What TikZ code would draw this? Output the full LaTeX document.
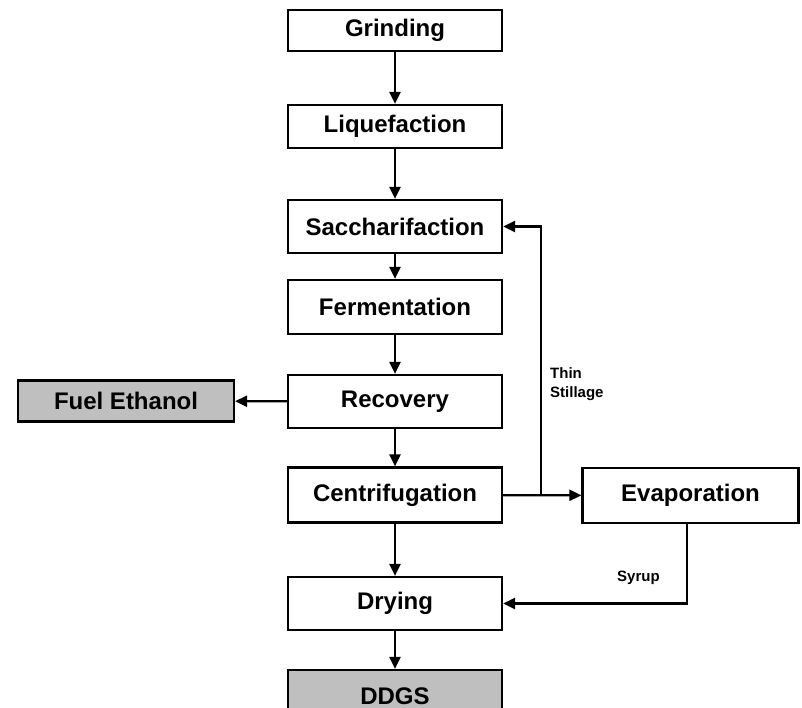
\documentclass[tikz,border=0pt]{standalone}
\usepackage{fontspec}
\setmainfont{Liberation Sans}
\usetikzlibrary{arrows.meta}
\begin{document}
\begin{tikzpicture}[x=1pt,y=-1pt,>={Triangle[length=12pt,width=11pt]},
  stepbox/.style={draw,line width=2.2pt,minimum width=214pt,inner sep=0pt,
    font=\fontsize{24}{28}\selectfont\bfseries},
  prodbox/.style={stepbox,fill=black!25},
  flow/.style={line width=2.2pt,->},
  tag/.style={font=\fontsize{15}{19}\selectfont\bfseries,align=left,inner sep=0pt}]
  \useasboundingbox (0,0) rectangle (802,708);
  \node[stepbox,minimum height=41pt] (grind) at (395,30.5) {Grinding};
  \node[stepbox,minimum height=43pt] (liq) at (395,126.5) {Liquefaction};
  \node[stepbox,minimum height=53pt] (sacch) at (395,226.5) {Saccharifaction};
  \node[stepbox,minimum height=54pt] (ferm) at (395,307) {Fermentation};
  \node[stepbox,minimum height=53pt] (rec) at (395,401.5) {Recovery};
  \node[stepbox,minimum height=55pt] (cent) at (395,495) {Centrifugation};
  \node[stepbox,minimum height=53pt] (dry) at (395,603.5) {Drying};
  \node[prodbox,minimum height=52pt] (ddgs) at (395,696) {DDGS};
  \node[prodbox,minimum width=216pt,minimum height=41pt] (fuel) at (126,401) {Fuel Ethanol};
  \node[stepbox,minimum width=216pt,minimum height=55pt] (evap) at (690.5,495.5) {Evaporation};
  \coordinate (split) at (541,495);
  % main line
  \draw[flow] (grind) -- (liq);
  \draw[flow] (liq) -- (sacch);
  \draw[flow] (sacch) -- (ferm);
  \draw[flow] (ferm) -- (rec);
  \draw[flow] (rec) -- (cent);
  \draw[flow] (cent) -- (dry);
  \draw[flow] (dry) -- (ddgs);
  \draw[flow] (rec) -- (fuel);
  % side streams
  \draw[flow] (cent) -- (evap);
  \draw[flow] (split) |- (sacch.east);
  \draw[flow] (evap.south -| 687,0) |- (dry.east);
  \node[tag,anchor=north west] (thin) at (550,367) {Thin\\Stillage};
  \node[tag,anchor=west] (syrup) at (617,578) {Syrup};
\end{tikzpicture}
\end{document}
